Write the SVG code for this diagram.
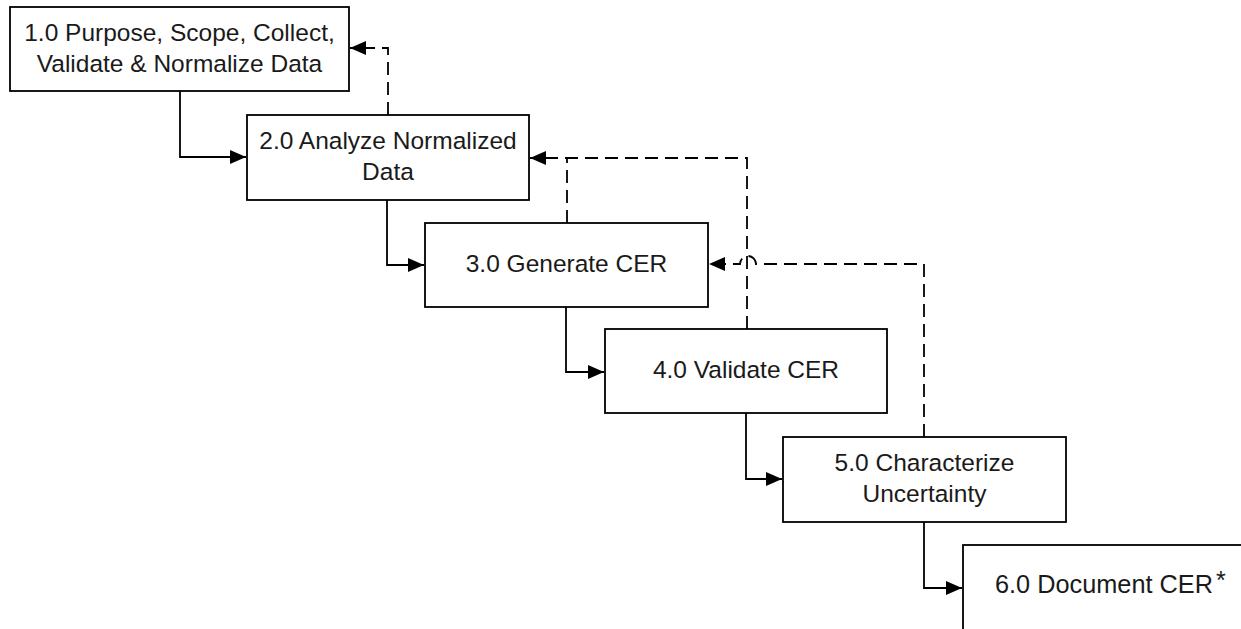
<svg xmlns="http://www.w3.org/2000/svg" width="1241" height="629" viewBox="0 0 1241 629">
<style>
.box{fill:#fff;stroke:#000;stroke-width:1.8}
.lbl{font-family:"Liberation Sans",Arial,sans-serif;font-size:24.5px;fill:#1a1a1a;text-anchor:middle}
.flow{fill:none;stroke:#000;stroke-width:1.8}
.fb{fill:none;stroke:#000;stroke-width:1.8;stroke-dasharray:13 7}
</style>
<defs>
<marker id="arr" markerUnits="userSpaceOnUse" markerWidth="18" markerHeight="16" refX="16" refY="7" orient="auto">
<path d="M0,0 L16,7 L0,14 z" fill="#000"/>
</marker>
</defs>
<rect width="1241" height="629" fill="#fff"/>
<g id="connectors">
<path class="flow" d="M180,91 V157 H246" marker-end="url(#arr)"/>
<path class="flow" d="M387,200 V265 H424" marker-end="url(#arr)"/>
<path class="flow" d="M566,307 V372 H604" marker-end="url(#arr)"/>
<path class="flow" d="M746,413 V479 H782" marker-end="url(#arr)"/>
<path class="flow" d="M924,522 V588 H962" marker-end="url(#arr)"/>
<path class="fb" d="M388,115 V48 H350" marker-end="url(#arr)"/>
<path class="fb" d="M747,329 V158 H530" marker-end="url(#arr)"/>
<path class="fb" d="M567,223 V158"/>
<path class="fb" d="M924,437 V264 H756 A8,8 0 0 0 740,264 H709" marker-end="url(#arr)"/>
</g>
<g id="node1">
<rect class="box" x="10" y="7" width="339" height="84"/>
<text class="lbl" x="179.5" y="41">1.0 Purpose, Scope, Collect,</text>
<text class="lbl" x="179.5" y="72">Validate &amp; Normalize Data</text>
</g>
<g id="node2">
<rect class="box" x="247" y="115" width="282" height="85"/>
<text class="lbl" x="388" y="149">2.0 Analyze Normalized</text>
<text class="lbl" x="388" y="180">Data</text>
</g>
<g id="node3">
<rect class="box" x="425" y="223" width="283" height="84"/>
<text class="lbl" x="566.5" y="272">3.0 Generate CER</text>
</g>
<g id="node4">
<rect class="box" x="605" y="329" width="282" height="84"/>
<text class="lbl" x="746" y="378">4.0 Validate CER</text>
</g>
<g id="node5">
<rect class="box" x="783" y="437" width="283" height="85"/>
<text class="lbl" x="924.5" y="471">5.0 Characterize</text>
<text class="lbl" x="924.5" y="502">Uncertainty</text>
</g>
<g id="node6">
<rect class="box" x="963" y="545" width="320" height="120"/>
<text class="lbl" x="995" y="593" style="text-anchor:start;font-size:25.3px">6.0 Document CER<tspan font-size="25" dx="3" dy="-4">*</tspan></text>
</g>
</svg>
